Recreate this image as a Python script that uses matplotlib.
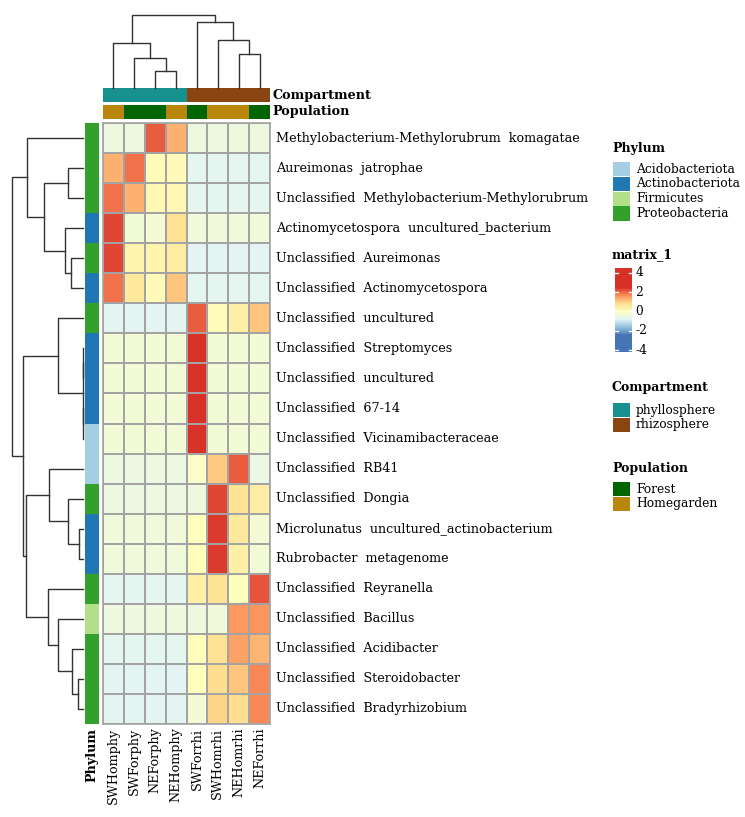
import numpy as np
import matplotlib
matplotlib.use("Agg")
import matplotlib.pyplot as plt
from matplotlib.colors import LinearSegmentedColormap, Normalize, ListedColormap
from matplotlib.patches import Rectangle

W, H = 745, 817
plt.rcParams['font.family'] = ['DejaVu Serif']

samples = ["SWHomphy", "SWForphy", "NEForphy", "NEHomphy",
           "SWForrhi", "SWHomrhi", "NEHomrhi", "NEForrhi"]
compartment = ["phyllosphere"] * 4 + ["rhizosphere"] * 4
population = ["Homegarden", "Forest", "Forest", "Homegarden",
              "Forest", "Homegarden", "Homegarden", "Forest"]

taxa = ["Methylobacterium-Methylorubrum  komagatae",
        "Aureimonas  jatrophae",
        "Unclassified  Methylobacterium-Methylorubrum",
        "Actinomycetospora  uncultured_bacterium",
        "Unclassified  Aureimonas",
        "Unclassified  Actinomycetospora",
        "Unclassified  uncultured",
        "Unclassified  Streptomyces",
        "Unclassified  uncultured",
        "Unclassified  67-14",
        "Unclassified  Vicinamibacteraceae",
        "Unclassified  RB41",
        "Unclassified  Dongia",
        "Microlunatus  uncultured_actinobacterium",
        "Rubrobacter  metagenome",
        "Unclassified  Reyranella",
        "Unclassified  Bacillus",
        "Unclassified  Acidibacter",
        "Unclassified  Steroidobacter",
        "Unclassified  Bradyrhizobium"]

phylum = ["Proteobacteria", "Proteobacteria", "Proteobacteria", "Actinobacteriota",
          "Proteobacteria", "Actinobacteriota", "Proteobacteria", "Actinobacteriota",
          "Actinobacteriota", "Actinobacteriota", "Acidobacteriota", "Acidobacteriota",
          "Proteobacteria", "Actinobacteriota", "Actinobacteriota", "Proteobacteria",
          "Firmicutes", "Proteobacteria", "Proteobacteria", "Proteobacteria"]

# row-scaled abundance (z-score)
values = [
    [-0.45, -0.45, 2.10, 1.30, -0.45, -0.45, -0.45, -0.45],
    [1.30, 1.90, 0.10, 0.15, -0.70, -0.70, -0.70, -0.70],
    [1.90, 1.30, 0.20, 0.20, -0.70, -0.70, -0.70, -0.70],
    [2.30, -0.35, -0.30, 0.80, -0.40, -0.40, -0.40, -0.40],
    [2.30, 0.30, 0.30, 0.50, -0.75, -0.75, -0.75, -0.75],
    [1.90, 0.60, 0.15, 1.10, -0.70, -0.70, -0.70, -0.70],
    [-0.75, -0.75, -0.75, -0.75, 2.10, 0.10, 0.40, 1.10],
    [-0.35, -0.35, -0.35, -0.35, 2.47, -0.35, -0.35, -0.35],
    [-0.35, -0.35, -0.35, -0.35, 2.47, -0.35, -0.35, -0.35],
    [-0.35, -0.35, -0.35, -0.35, 2.47, -0.35, -0.35, -0.35],
    [-0.35, -0.35, -0.35, -0.35, 2.47, -0.35, -0.35, -0.35],
    [-0.50, -0.50, -0.50, -0.50, -0.15, 1.05, 2.10, -0.50],
    [-0.50, -0.50, -0.50, -0.50, -0.45, 2.30, 0.75, 0.45],
    [-0.40, -0.40, -0.40, -0.40, 0.00, 2.40, 0.55, -0.30],
    [-0.40, -0.40, -0.40, -0.40, 0.05, 2.40, 0.40, -0.35],
    [-0.70, -0.70, -0.70, -0.70, 0.40, 0.75, 0.00, 2.15],
    [-0.45, -0.45, -0.45, -0.45, -0.45, -0.40, 1.55, 1.60],
    [-0.70, -0.70, -0.70, -0.70, 0.05, 0.80, 1.45, 1.25],
    [-0.75, -0.75, -0.75, -0.75, 0.00, 0.85, 1.10, 1.70],
    [-0.75, -0.75, -0.75, -0.75, -0.30, 0.95, 0.85, 1.70],
]

# clustering trees: (merge height, left, right), leaves are display positions
row_tree = (71, (56, 0, (39, (15, 1, 2), (18, 3, (12, 4, 5)))),
            (60, (25, 6, (0.4, (0.4, 7, 8), (0.4, 9, 10))),
             (57, (34, 11, (15, 12, (4, 13, 14))),
              (35, 15, (25, 16, (11, 17, (5, 18, 19)))))))
col_tree = (73, (45, 0, (30, 1, (17, 2, 3))), (66, 4, (48, 5, (34, 6, 7))))

phylum_colors = {"Acidobacteriota": "#A6CEE3", "Actinobacteriota": "#1F78B4",
                 "Firmicutes": "#B2DF8A", "Proteobacteria": "#33A02C"}
compartment_colors = {"phyllosphere": "#17918F", "rhizosphere": "#8B4513"}
population_colors = {"Forest": "#006400", "Homegarden": "#B8860B"}

cmap = LinearSegmentedColormap.from_list(
    "rdylbu", ["#4575B4", "#91BFDB", "#E0F3F8", "#FFFFBF", "#FEE090", "#FC8D59", "#D73027"])
norm = Normalize(vmin=-2.5, vmax=2.5)
grid_col = "#A3A3A3"
line_col = "#333333"

fig = plt.figure(figsize=(W / 100, H / 100), dpi=100)


def px_axes(x0, y0, x1, y1):
    return fig.add_axes([x0 / W, 1 - y1 / H, (x1 - x0) / W, (y1 - y0) / H])


def draw_tree(ax, node, orient):
    if isinstance(node, int):
        return node + 0.5, 0.0
    h, left, right = node
    p1, h1 = draw_tree(ax, left, orient)
    p2, h2 = draw_tree(ax, right, orient)
    if orient == "left":
        ax.plot([h1, h, h, h2], [p1, p1, p2, p2], color=line_col, lw=1.0, clip_on=False)
    else:
        ax.plot([p1, p1, p2, p2], [h1, h, h, h2], color=line_col, lw=1.0, clip_on=False)
    return (p1 + p2) / 2, h


n_rows, n_cols = len(taxa), len(samples)

# main heatmap
ax = px_axes(103, 123, 270, 724)
ax.pcolormesh(np.array(values), cmap=cmap, norm=norm, edgecolors=grid_col, linewidth=1.2)
ax.set_xlim(0, n_cols)
ax.set_ylim(n_rows, 0)
ax.set_xticks([])
ax.set_yticks([])
for s in ax.spines.values():
    s.set_color(grid_col)
    s.set_linewidth(1.2)
for i, t in enumerate(taxa):
    ax.text(n_cols + 0.3, i + 0.5, t, ha="left", va="center", fontsize=9.2)
for j, s in enumerate(samples):
    ax.text(j + 0.5, n_rows + 0.12, s, rotation=90, ha="center", va="top", fontsize=9.2)

# phylum row annotation
ax_ph = px_axes(85, 123, 99, 724)
ph_names = list(phylum_colors)
ph_idx = np.array([[ph_names.index(p)] for p in phylum])
ax_ph.pcolormesh(ph_idx, cmap=ListedColormap([phylum_colors[p] for p in ph_names]),
                 vmin=-0.5, vmax=len(ph_names) - 0.5)
ax_ph.set_ylim(n_rows, 0)
ax_ph.axis("off")
ax_ph.text(0.5, n_rows + 0.12, "Phylum", rotation=90, ha="center", va="top",
           fontsize=9.2, fontweight="bold")

# column annotations
for (y0, y1, lab, vals, cdict) in [(88, 102, "Compartment", compartment, compartment_colors),
                                    (105, 119, "Population", population, population_colors)]:
    a = px_axes(103, y0, 270, y1)
    names = list(cdict)
    idx = np.array([[names.index(v) for v in vals]])
    a.pcolormesh(idx, cmap=ListedColormap([cdict[n] for n in names]),
                 vmin=-0.5, vmax=len(names) - 0.5)
    a.set_xlim(0, n_cols)
    a.axis("off")
    a.text(n_cols + 0.1, 0.5, lab, ha="left", va="center", fontsize=9.2, fontweight="bold")

# dendrograms
ax_rd = px_axes(12, 123, 83, 724)
draw_tree(ax_rd, row_tree, "left")
ax_rd.set_xlim(row_tree[0], 0)
ax_rd.set_ylim(n_rows, 0)
ax_rd.axis("off")

ax_cd = px_axes(103, 15, 270, 88)
draw_tree(ax_cd, col_tree, "top")
ax_cd.set_xlim(0, n_cols)
ax_cd.set_ylim(0, col_tree[0])
ax_cd.axis("off")

# legends
lax = fig.add_axes([0, 0, 1, 1], zorder=-1)
lax.set_xlim(0, W)
lax.set_ylim(H, 0)
lax.axis("off")


def swatch_legend(title, cdict, y_title, y_first, step=14.8):
    lax.text(612, y_title, title, ha="left", va="center", fontsize=9, fontweight="bold")
    for k, (name, col) in enumerate(cdict.items()):
        y = y_first + k * step
        lax.add_patch(Rectangle((613, y - 7), 17, 14.3, color=col, lw=0))
        lax.text(636, y, name, ha="left", va="center", fontsize=8.8)


swatch_legend("Phylum", phylum_colors, 148, 169)
swatch_legend("Compartment", compartment_colors, 387, 410)
swatch_legend("Population", population_colors, 468, 489)

lax.text(612, 255, "matrix_1", ha="left", va="center", fontsize=9, fontweight="bold")
cax = px_axes(615, 268, 632, 352)
grad = np.linspace(4.5, -4.2, 200).reshape(-1, 1)
cax.imshow(grad, cmap=cmap, norm=norm, aspect="auto", extent=[0, 1, -4.2, 4.5])
cax.set_xlim(0, 1)
cax.set_ylim(-4.2, 4.5)
cax.axis("off")
for v in [4, 2, 0, -2, -4]:
    cax.plot([0, 0.2], [v, v], color="white", lw=1)
    cax.plot([0.8, 1], [v, v], color="white", lw=1)
    cax.text(1.2, v, str(v), ha="left", va="center", fontsize=8.8)

fig.savefig("out.png", dpi=100)
